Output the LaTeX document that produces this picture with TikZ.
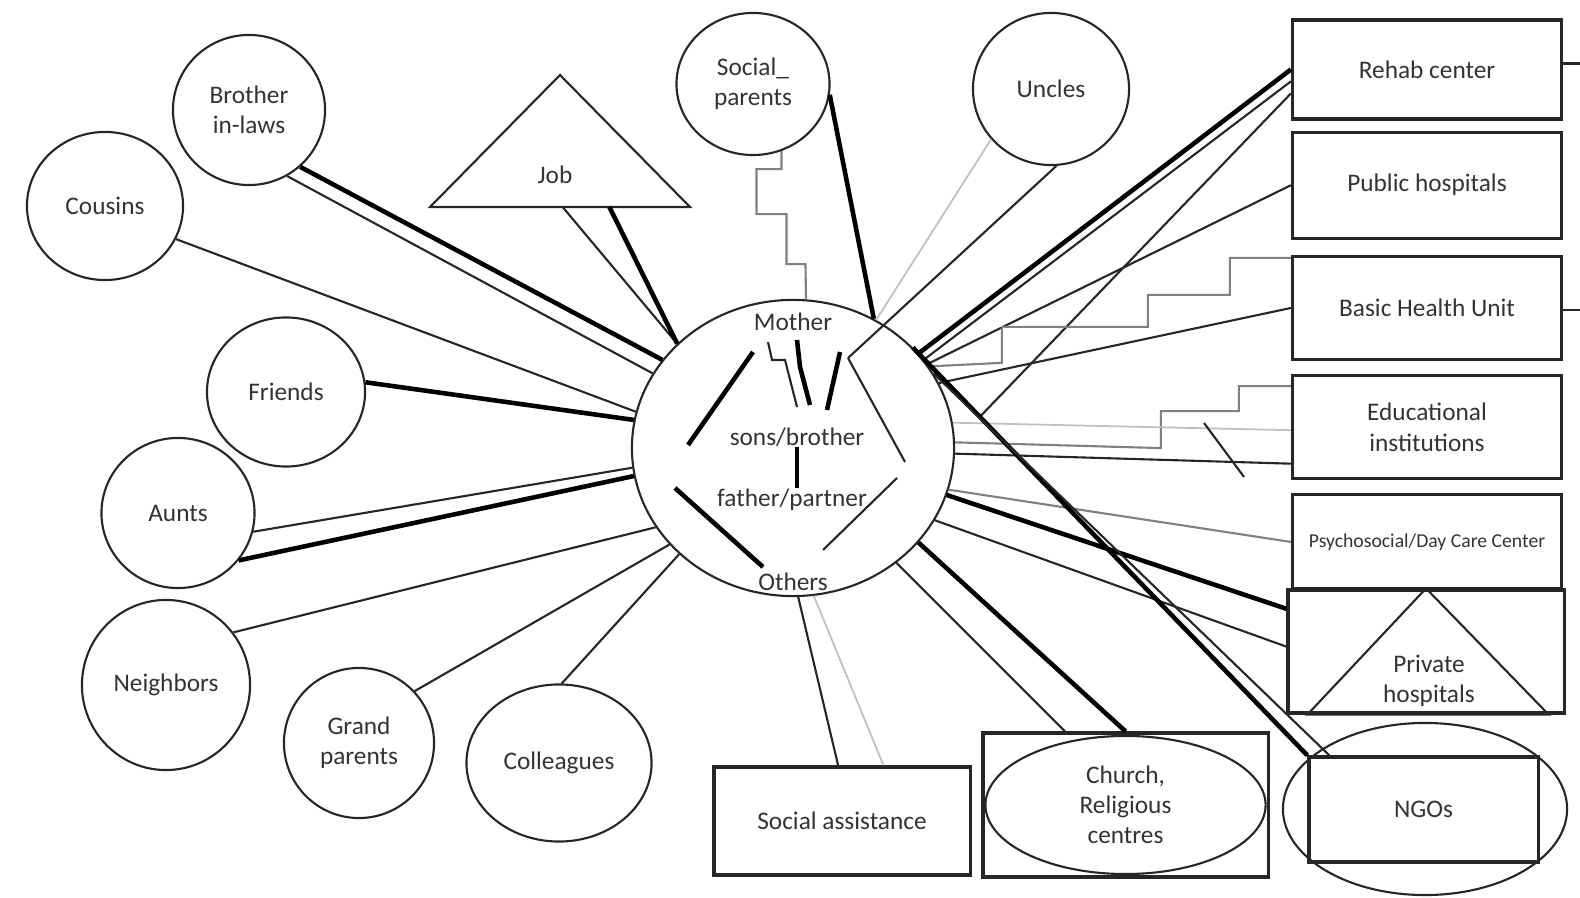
\documentclass[tikz,border=0pt]{standalone}
\usepackage{fontspec}
\setmainfont{Carlito}
\usetikzlibrary{positioning,calc,shapes.geometric}
\tikzset{
    member/.style={draw=black!85, ellipse, line width=0.6pt, inner sep=0pt, align=center, text=black!80},
    agency/.style={draw=black!85, rectangle, line width=0.9pt, inner sep=0pt, align=center, text=black!80},
    txt/.style={inner sep=0pt, align=center, text=black!80},
    outline/.style={line width=0.6pt, draw=black!85},
    tie/.style={line width=0.6pt, draw=black!85},
    strongtie/.style={line width=1.3pt, draw=black},
    midtie/.style={line width=0.6pt, draw=black!50},
    weaktie/.style={line width=0.5pt, draw=black!25}
}
\begin{document}
\begin{tikzpicture}[x=0.01cm, y=-0.01cm, font=\fontsize{7.2}{8.6}\selectfont]
\useasboundingbox (0,0) rectangle (1580,898);

% household in the middle
\node[member, minimum width=3.22cm, minimum height=2.96cm] (hh) at (793,448) {};
\node[txt] (mother) at (793,322) {Mother};
\node[txt] (sons) at (797,437) {sons/brother};
\node[txt] (father) at (792,500) {father/partner};
\node[txt] (others) at (793,582) {Others};

% ties inside the household
\coordinate (rd) at (848,358);
\draw[strongtie] (753,352) -- (688,445);
\draw[tie] (768,342) -- (772,360) -- (785,360) -- (797,407);
\draw[strongtie] (797,340) -- (800,367) -- (810,405);
\draw[strongtie] (840,352) -- (827,410);
\draw[tie] (rd) -- (905,462);
\draw[strongtie] (sons.south) -- (sons.south |- father.north);
\draw[strongtie] (675,488) -- (763,567);
\draw[tie] (897,478) -- (823,550);

% relatives and friends
\node[member, minimum width=1.52cm, minimum height=1.50cm] (inlaws) at (249,110) {Brother\\in-laws};
\node[member, minimum width=1.56cm, minimum height=1.48cm] (cousins) at (105,206) {Cousins};
\node[member, minimum width=1.58cm, minimum height=1.49cm] (friends) at (286,392) {Friends};
\node[member, minimum width=1.53cm, minimum height=1.50cm] (aunts) at (178,513) {Aunts};
\node[member, minimum width=1.68cm, minimum height=1.70cm] (neighb) at (166,685) {Neighbors};
\node[member, minimum width=1.50cm, minimum height=1.50cm] (grandp) at (359,743) {Grand\\parents};
\node[member, minimum width=1.85cm, minimum height=1.57cm] (colleag) at (559,763) {Colleagues};
\node[member, minimum width=1.53cm, minimum height=1.42cm] (sparents) at (753,84) {Social\_\\parents};
\node[member, minimum width=1.56cm, minimum height=1.52cm] (uncles) at (1051,89) {Uncles};

% job
\coordinate (jobtop) at (560,75);
\coordinate (jobl) at (430,207);
\coordinate (jobr) at (690,207);
\draw[outline] (jobtop) -- (jobr) -- (jobl) -- cycle;
\node[txt] (job) at (555,175) {Job};

% services
\node[agency, minimum width=2.69cm, minimum height=0.99cm] (rehab) at (1427,69.5) {Rehab center};
\node[agency, minimum width=2.69cm, minimum height=1.06cm, below=0.1cm of rehab] (pubhosp) {Public hospitals};
\node[agency, minimum width=2.69cm, minimum height=1.03cm, below=0.15cm of pubhosp] (bhu) {Basic Health Unit};
\node[agency, minimum width=2.69cm, minimum height=1.03cm, below=0.13cm of bhu] (edu) {Educational\\institutions};
\node[agency, minimum width=2.69cm, minimum height=0.94cm, below=0.13cm of edu, font=\fontsize{5.6}{7}\selectfont] (psych) {Psychosocial/Day Care Center};
\node[agency, minimum width=2.76cm, minimum height=1.23cm] (privhosp) at (1426,651.5) {};
\draw[outline] (privhosp.north) -- ($(privhosp.south west)+(21,0)$) -- ($(privhosp.south east)+(-17,0)$) -- cycle;
\node[txt] (privtxt) at (1429,681) {Private\\hospitals};
\node[member, minimum width=2.84cm, minimum height=1.72cm] (ngoring) at (1425,809) {};
\node[agency, minimum width=2.29cm, minimum height=1.05cm] (ngo) at (1423.5,809.5) {NGOs};
\node[agency, minimum width=2.85cm, minimum height=1.44cm] (church) at (1125.5,805) {Church,\\Religious\\centres};
\node[member, minimum width=2.80cm, minimum height=1.38cm] (churchring) at (church) {};
\node[agency, minimum width=2.56cm, minimum height=1.08cm] (socass) at (842,821) {Social assistance};

% ties to the left side
\draw[strongtie] (inlaws.-48) -- (hh.146);
\draw[tie] (inlaws.-60) -- (hh.152);
\draw[tie] (cousins.-25) -- (hh.167);
\draw[strongtie] (friends.7) -- (hh.170);
\draw[tie] (aunts.-14) -- (hh.187);
\draw[strongtie] (aunts.-38) -- (hh.190);
\draw[tie] (neighb.38) -- (hh.210);
\draw[tie] (grandp.43) -- (hh.218);
\draw[tie] (colleag.88) -- (hh.223);
\draw[tie] ($(jobl)!0.51!(jobr)$) -- (hh.138);
\draw[strongtie] ($(jobl)!0.69!(jobr)$) -- (hh.138);

% ties at the top
\draw[midtie] (sparents.-67) -- ++(0,18) -- ++(-25,0) -- ++(0,45) -- ++(30,0) -- ++(0,50) -- ++(19,0) -- (hh.85);
\draw[strongtie] (sparents.-8) -- (hh.58);
\draw[weaktie] (uncles.220) -- (hh.57);
\draw[tie] (uncles.-86) -- (rd);

% ties to the services
\path (hh.40) -- (ngo.north west) coordinate[pos=0.17] (ngoknot);
\draw[strongtie] (rehab.west) -- (hh.37);
\draw[tie] (rehab.185) -- (hh.34);
\draw[tie] (rehab.190) -- (ngoknot);
\draw[tie] ($(rehab.east)+(0,-6)$) -- ++(18,0);
\draw[tie] (pubhosp.west) -- (hh.32);
\draw[midtie] ($(bhu.north west)+(0,3)$) -- ++(-61,0) -- ++(0,37) -- ++(-82,0) -- ++(0,32) -- ++(-146,0) -- ++(0,36) -- (hh.31);
\draw[tie] (bhu.west) -- (hh.24);
\draw[tie] ($(bhu.east)+(0,2)$) -- ++(18,0);
\draw[midtie] ($(edu.north west)+(0,12)$) -- ++(-52,0) -- ++(0,25) -- ++(-78,0) -- ++(0,37) -- (hh.2);
\draw[weaktie] ($(edu.west)+(0,3)$) -- (hh.9);
\draw[tie] (edu.195) -- (hh.-2);
\draw[tie] (1204,423) -- (1244,477);
\draw[midtie] (psych.west) -- (hh.-15);
\draw[strongtie] (privhosp.163) -- (hh.-17);
\draw[tie] (privhosp.178) -- (hh.-27);
\draw[strongtie] (hh.40) -- (ngo.north west);
\draw[tie] (hh.28) -- ($(ngo.north west)+(22,0)$);
\draw[tie] (hh.-48) -- ($(church.north west)!0.29!(church.north east)$);
\draw[strongtie] (hh.-37) -- (church.north);
\draw[tie] (hh.-88) -- ($(socass.north west)!0.485!(socass.north east)$);
\draw[weaktie] (hh.-82) -- ($(socass.north west)!0.66!(socass.north east)$);
\end{tikzpicture}
\end{document}
